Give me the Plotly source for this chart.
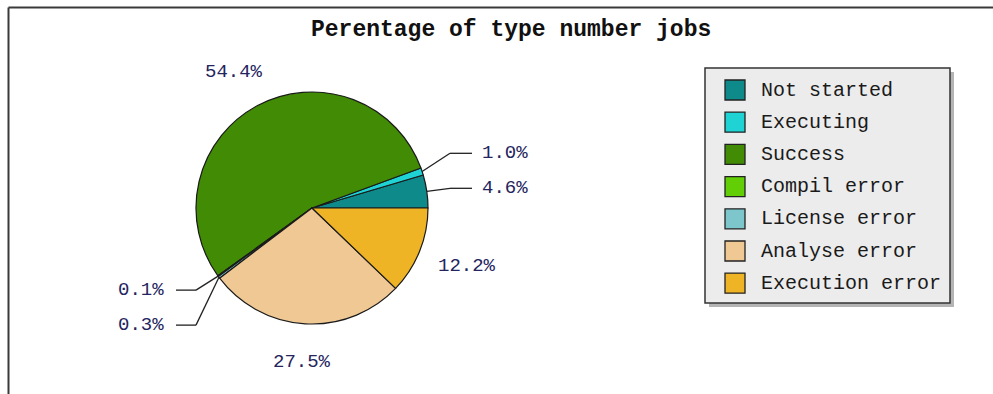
import math
import plotly.graph_objects as go

# Job-state breakdown (percent of jobs)
labels = ["Not started", "Executing", "Success", "Compil error",
          "License error", "Analyse error", "Execution error"]
values = [4.6, 1.0, 54.4, 0.1, 0.3, 27.5, 12.2]
colors = ["#0f8a8a", "#1fd3d5", "#418b05", "#62cf06",
          "#7cc6cc", "#f0c893", "#efb425"]
title_text = "Perentage of type number jobs"

# Page geometry in pixels
W, H = 993, 394
CX, CY, R = 312, 208, 116
FONT = "Liberation Mono"
LABEL_COLOR = "#24245e"


def px(x):
    return x / W


def py(y):
    return 1 - y / H


total = sum(values)
# Plotly places the first counterclockwise slice just clockwise of `rotation`;
# shift by its size so the first slice starts at 3 o'clock and runs upward.
start_rotation = 90 - 360.0 * values[0] / total

fig = go.Figure(go.Pie(
    labels=labels,
    values=values,
    sort=False,
    direction="counterclockwise",
    rotation=start_rotation,
    textinfo="none",
    hoverinfo="label+value",
    showlegend=False,
    marker=dict(colors=colors, line=dict(color="#1a1a1a", width=1.2)),
    domain=dict(x=[px(CX - R), px(CX + R)], y=[py(CY + R), py(CY - R)]),
))

shapes = []
annotations = []

# Outer frame (top and left edges)
shapes.append(dict(type="line", xref="paper", yref="paper",
                   x0=px(8.5), y0=py(394), x1=px(8.5), y1=py(7.5),
                   line=dict(color="#3a3a3a", width=2)))
shapes.append(dict(type="line", xref="paper", yref="paper",
                   x0=px(8.5), y0=py(7.5), x1=px(993), y1=py(7.5),
                   line=dict(color="#3a3a3a", width=2)))

# Title
annotations.append(dict(text="<b>" + title_text + "</b>", xref="paper", yref="paper",
                        x=px(511), y=py(30), xanchor="center", yanchor="middle",
                        showarrow=False, font=dict(family=FONT, size=23, color="#111")))

# Percentage labels placed around the pie from each slice's mid angle
cum = 0.0
LFS = 19
small_right, small_left = [], []
for lab, v in zip(labels, values):
    theta = math.radians(360.0 * (cum + v / 2) / total)
    cum += v
    c, s = math.cos(theta), math.sin(theta)
    txt = f"{v:.1f}%"
    ex, ey = CX + R * c, CY - R * s
    if v >= 5:
        lx = CX + 1.44 * R * c
        ly = CY - 1.33 * R * s
        annotations.append(dict(text=txt, xref="paper", yref="paper",
                                x=px(lx), y=py(ly), xanchor="center", yanchor="middle",
                                showarrow=False,
                                font=dict(family=FONT, size=LFS, color=LABEL_COLOR)))
    else:
        (small_right if c > 0 else small_left).append((txt, ex, ey))

GAP = 35
# right side: stack upward
small_right.sort(key=lambda t: -t[2])
prev = None
for txt, ex, ey in small_right:
    y = ey - 3 if prev is None else min(ey - 3, prev - GAP)
    prev = y
    pts = [(ex, ey), (CX + R + 22, y), (CX + R + 44, y)]
    for (x0, y0), (x1, y1) in zip(pts[:-1], pts[1:]):
        shapes.append(dict(type="line", xref="paper", yref="paper",
                           x0=px(x0), y0=py(y0), x1=px(x1), y1=py(y1),
                           line=dict(color="#222", width=1.3)))
    annotations.append(dict(text=txt, xref="paper", yref="paper",
                            x=px(CX + R + 52), y=py(y), xanchor="left", yanchor="middle",
                            showarrow=False,
                            font=dict(family=FONT, size=LFS, color=LABEL_COLOR)))

# left side: stack downward
small_left.sort(key=lambda t: t[2])
prev = None
for txt, ex, ey in small_left:
    y = ey + 14 if prev is None else max(ey + 14, prev + GAP)
    prev = y
    pts = [(ex, ey), (CX - R, y), (CX - R - 20, y)]
    for (x0, y0), (x1, y1) in zip(pts[:-1], pts[1:]):
        shapes.append(dict(type="line", xref="paper", yref="paper",
                           x0=px(x0), y0=py(y0), x1=px(x1), y1=py(y1),
                           line=dict(color="#222", width=1.3)))
    annotations.append(dict(text=txt, xref="paper", yref="paper",
                            x=px(CX - R - 30), y=py(y), xanchor="right", yanchor="middle",
                            showarrow=False,
                            font=dict(family=FONT, size=LFS, color=LABEL_COLOR)))

# Legend box with drop shadow
LX0, LY0, LX1, LY1 = 705, 68, 950, 303
shapes.append(dict(type="rect", xref="paper", yref="paper",
                   x0=px(LX0 + 4), y0=py(LY1 + 4), x1=px(LX1 + 4), y1=py(LY0 + 4),
                   fillcolor="#b4b4b4", line=dict(width=0)))
shapes.append(dict(type="rect", xref="paper", yref="paper",
                   x0=px(LX0), y0=py(LY1), x1=px(LX1), y1=py(LY0),
                   fillcolor="#ececec", line=dict(color="#333", width=1.5)))
for i, (lab, col) in enumerate(zip(labels, colors)):
    cy = 90 + 32.2 * i
    shapes.append(dict(type="rect", xref="paper", yref="paper",
                       x0=px(725), y0=py(cy + 10), x1=px(745), y1=py(cy - 10),
                       fillcolor=col, line=dict(color="#222", width=1.3)))
    annotations.append(dict(text=lab, xref="paper", yref="paper",
                            x=px(759), y=py(cy), xanchor="left", yanchor="middle",
                            showarrow=False,
                            font=dict(family=FONT, size=20, color="#1a1a1a")))

fig.update_layout(
    width=W, height=H,
    margin=dict(l=0, r=0, t=0, b=0),
    paper_bgcolor="white",
    plot_bgcolor="white",
    shapes=shapes,
    annotations=annotations,
)

fig.write_html("out.html", config={"displayModeBar": False})
